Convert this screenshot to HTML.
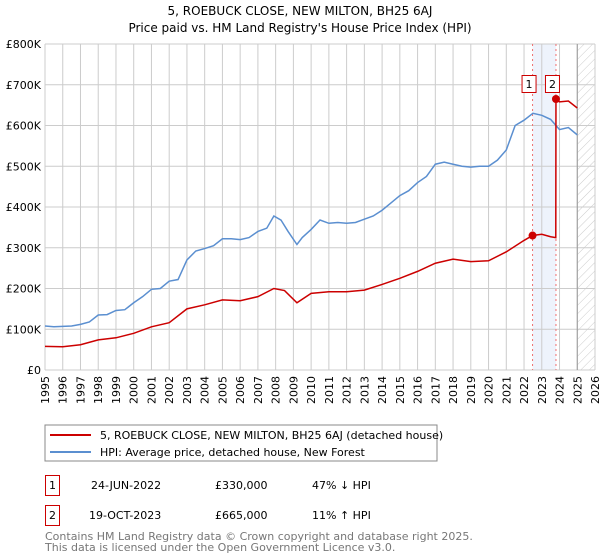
<!DOCTYPE html>
<html><head><meta charset="utf-8"><style>
body{margin:0;background:#fff;}
svg{display:block;font-family:"DejaVu Sans","Liberation Sans",sans-serif;}
</style></head><body>
<svg id="c" width="600" height="560" viewBox="0 0 600 560">
<defs><pattern id="hatch" width="6" height="6" patternUnits="userSpaceOnUse" patternTransform="rotate(45)"><line x1="0" y1="0" x2="0" y2="6" stroke="#ccc" stroke-width="1"/></pattern></defs>
<text x="300" y="15" text-anchor="middle" font-size="12">5, ROEBUCK CLOSE, NEW MILTON, BH25 6AJ</text>
<text x="300" y="32" text-anchor="middle" font-size="12">Price paid vs. HM Land Registry's House Price Index (HPI)</text>
<g id="grid"></g><g id="marks"></g><g id="axes"></g>
<rect x="45" y="425" width="392" height="36" fill="none" stroke="#888"/>
<line x1="50" y1="435" x2="91" y2="435" stroke="#cc0000" stroke-width="2"/>
<text x="100" y="439" font-size="11">5, ROEBUCK CLOSE, NEW MILTON, BH25 6AJ (detached house)</text>
<line x1="50" y1="452" x2="91" y2="452" stroke="#5b8fd0" stroke-width="2"/>
<text x="100" y="456" font-size="11">HPI: Average price, detached house, New Forest</text>
<g font-size="11">
<rect x="45.5" y="475.5" width="14" height="20" fill="none" stroke="#cc0000"/><text x="52.5" y="489" text-anchor="middle">1</text>
<text x="91" y="489">24-JUN-2022</text><text x="215" y="489">£330,000</text><text x="312" y="489">47% ↓ HPI</text></g>
<g font-size="11">
<rect x="45.5" y="505.5" width="14" height="20" fill="none" stroke="#cc0000"/><text x="52.5" y="519" text-anchor="middle">2</text>
<text x="89" y="519">19-OCT-2023</text><text x="215" y="519">£665,000</text><text x="312" y="519">11% ↑ HPI</text></g>
<text x="45" y="540" font-size="11" fill="#777">Contains HM Land Registry data © Crown copyright and database right 2025.</text>
<text x="45" y="551" font-size="11" fill="#777">This data is licensed under the Open Government Licence v3.0.</text>
</svg>
<script>
const yTicks=[0,100,200,300,400,500,600,700,800];
const yTickLabels=["£0","£100K","£200K","£300K","£400K","£500K","£600K","£700K","£800K"];
const years=[1995,1996,1997,1998,1999,2000,2001,2002,2003,2004,2005,2006,2007,2008,2009,2010,2011,2012,2013,2014,2015,2016,2017,2018,2019,2020,2021,2022,2023,2024,2025,2026];
const hpiDates=[1995,1995.5,1996,1996.5,1997,1997.5,1998,1998.5,1999,1999.5,2000,2000.5,2001,2001.5,2002,2002.5,2003,2003.5,2004,2004.5,2005,2005.5,2006,2006.5,2007,2007.5,2007.9,2008.3,2008.7,2009.2,2009.5,2010,2010.5,2011,2011.5,2012,2012.5,2013,2013.5,2014,2014.5,2015,2015.5,2016,2016.5,2017,2017.5,2018,2018.5,2019,2019.5,2020,2020.5,2021,2021.5,2022,2022.5,2023,2023.5,2024,2024.5,2025];
const hpiValues=[108,106,107,108,112,118,135,136,146,148,165,180,198,200,218,222,270,292,298,305,322,322,320,325,340,348,378,368,340,308,325,345,368,360,362,360,362,370,378,392,410,428,440,460,475,505,510,505,500,498,500,500,515,540,600,613,630,625,615,590,595,577];
const priceDates=[1995,1996,1997,1998,1999,2000,2001,2002,2003,2004,2005,2006,2007,2007.9,2008.5,2009.2,2010,2011,2012,2013,2014,2015,2016,2017,2018,2019,2020,2021,2022,2022.48,2023,2023.5,2023.79,2023.8,2024,2024.5,2025];
const priceValues=[58,57,62,74,79,90,106,116,150,160,172,170,180,200,195,165,188,192,192,196,210,225,242,262,272,266,268,290,318,330,333,327,325,665,658,660,643];
const saleDates=[2022.48,2023.8];
const saleValues=[330,665];
const saleLabels=["1","2"];
const NS="http://www.w3.org/2000/svg";
const X0=45,X1=595,Y0=370,Y1=44;
const x=d=>X0+(d-1995)*(X1-X0)/31;
const y=v=>Y0-v*(Y0-Y1)/800;
function mk(t,a,p){const e=document.createElementNS(NS,t);for(const k in a)e.setAttribute(k,a[k]);p.appendChild(e);return e;}
const grid=document.getElementById('grid'),marks=document.getElementById('marks'),axes=document.getElementById('axes');
let band=mk('rect',{x:x(saleDates[0]),y:Y1,width:x(saleDates[1])-x(saleDates[0]),height:Y0-Y1,fill:'#eef3fc'},grid);


let fut=mk('rect',{x:x(2025),y:Y1,width:X1-x(2025),height:Y0-Y1,fill:'url(#hatch)'},grid);


yTicks.forEach((v,i)=>{
  let l=mk('line',{x1:X0,x2:X1,y1:y(v),y2:y(v),stroke:'#ccc'},grid);
  
  
  let t=mk('text',{x:X0-4,y:y(v)+4,'text-anchor':'end','font-size':11},axes);t.textContent=yTickLabels[i];
  
  
});
years.forEach(yr=>{
  let l=mk('line',{x1:x(yr),x2:x(yr),y1:Y1,y2:Y0,stroke:'#ccc'},grid);
  
  
  let t=mk('text',{x:0,y:0,'text-anchor':'end','font-size':11,transform:`translate(${x(yr)+4},${Y0+6}) rotate(-90)`},axes);t.textContent=yr;
  
  
});
let fl=mk('line',{x1:x(2025),x2:x(2025),y1:Y1,y2:Y0,stroke:'#999'},grid);


saleDates.forEach((d,i)=>{
  let l=mk('line',{x1:x(d),x2:x(d),y1:Y1,y2:Y0,stroke:'#f07070','stroke-dasharray':'2,3'},grid);
  
  
});
let hp=mk('polyline',{points:hpiDates.map((d,i)=>x(d)+','+y(hpiValues[i])).join(' '),fill:'none',stroke:'#5b8fd0','stroke-width':1.5},marks);


let pp=mk('polyline',{points:priceDates.map((d,i)=>x(d)+','+y(priceValues[i])).join(' '),fill:'none',stroke:'#cc0000','stroke-width':1.5},marks);


saleDates.forEach((d,i)=>{
  let c=mk('circle',{cx:x(d),cy:y(saleValues[i]),r:4,fill:'#cc0000'},marks);
  
  
  let g=mk('g',{},marks);
  
  
  mk('rect',{x:x(d)-10.5,y:75.5,width:14,height:17,fill:'#fff',stroke:'#cc0000'},g);
  let t=mk('text',{x:x(d)-3.5,y:88,'text-anchor':'middle','font-size':11},g);t.textContent=saleLabels[i];
});
</script>
</body></html>
